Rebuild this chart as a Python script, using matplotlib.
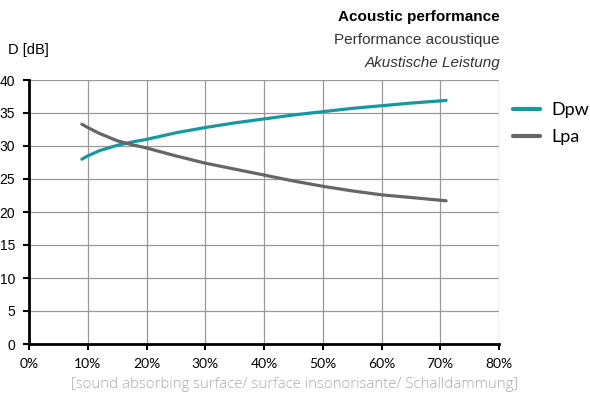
import matplotlib.pyplot as plt
import numpy as np

# data
surface = [9, 10, 12, 15, 17.5, 20, 25, 30, 35, 40, 45, 50, 55, 60, 65, 71]
dpw = [28.0, 28.5, 29.3, 30.1, 30.6, 31.0, 32.0, 32.8, 33.5, 34.1, 34.7, 35.2, 35.7, 36.1, 36.5, 36.9]
lpa = [33.3, 32.8, 31.9, 30.8, 30.2, 29.7, 28.5, 27.4, 26.5, 25.6, 24.7, 23.9, 23.2, 22.6, 22.2, 21.7]
x_ticks = [0, 10, 20, 30, 40, 50, 60, 70, 80]
y_ticks = [0, 5, 10, 15, 20, 25, 30, 35, 40]

teal = "#16989d"
grey = "#666666"

fig = plt.figure(figsize=(5.9, 3.99), dpi=100)
ax = fig.add_axes([29/590, 55/399, 470/590, 264/399])

ax.plot(surface, dpw, color=teal, lw=2.3, solid_capstyle="round", label="Dpw")
ax.plot(surface, lpa, color=grey, lw=2.3, solid_capstyle="round", label="Lpa")

ax.set_xlim(0, 80)
ax.set_ylim(0, 40)
ax.set_xticks(x_ticks)
ax.set_xticklabels([f"{t}%" for t in x_ticks], fontfamily="Lato", fontsize=10)
ax.set_yticks(y_ticks)
ax.set_yticklabels([str(t) for t in y_ticks], fontfamily="Liberation Sans", fontsize=10)
ax.grid(True, color="#999999", lw=0.9)
ax.set_axisbelow(True)

for s in ["top", "right"]:
    ax.spines[s].set_visible(False)
for s in ["left", "bottom"]:
    ax.spines[s].set_linewidth(2)
    ax.spines[s].set_color("black")
ax.tick_params(length=4, width=1.5, color="black", pad=6)

fig.text(0.5, 1 - 385/399, "[sound absorbing surface/ surface insonorisante/ Schalldämmung]",
         fontfamily="Open Sans", fontsize=10.7, color="#aaaaaa", fontweight="light",
         ha="center", va="center")

fig.text(8/590, 1 - 50/399, "D [dB]", fontfamily="Liberation Sans", fontsize=10.5, va="center")
fig.text(500/590, 1 - 17/399, "Acoustic performance", fontfamily="Liberation Sans",
         fontsize=11, fontweight="bold", ha="right", va="center")
fig.text(500/590, 1 - 40/399, "Performance acoustique", fontfamily="Liberation Sans",
         fontsize=11, ha="right", va="center", color="#333333")
fig.text(500/590, 1 - 63/399, "Akustische Leistung", fontfamily="Liberation Sans",
         fontsize=11, ha="right", va="center", style="italic", color="#333333")

leg = ax.legend(loc="upper left", bbox_to_anchor=(1.03, 0.915), frameon=False,
                borderaxespad=0, borderpad=0,
                handlelength=1.5, handletextpad=0.6, labelspacing=0.6,
                prop={"family": "Lato", "size": 13})
for h in leg.get_lines():
    h.set_linewidth(3)

fig.savefig("out.png", dpi=100)
